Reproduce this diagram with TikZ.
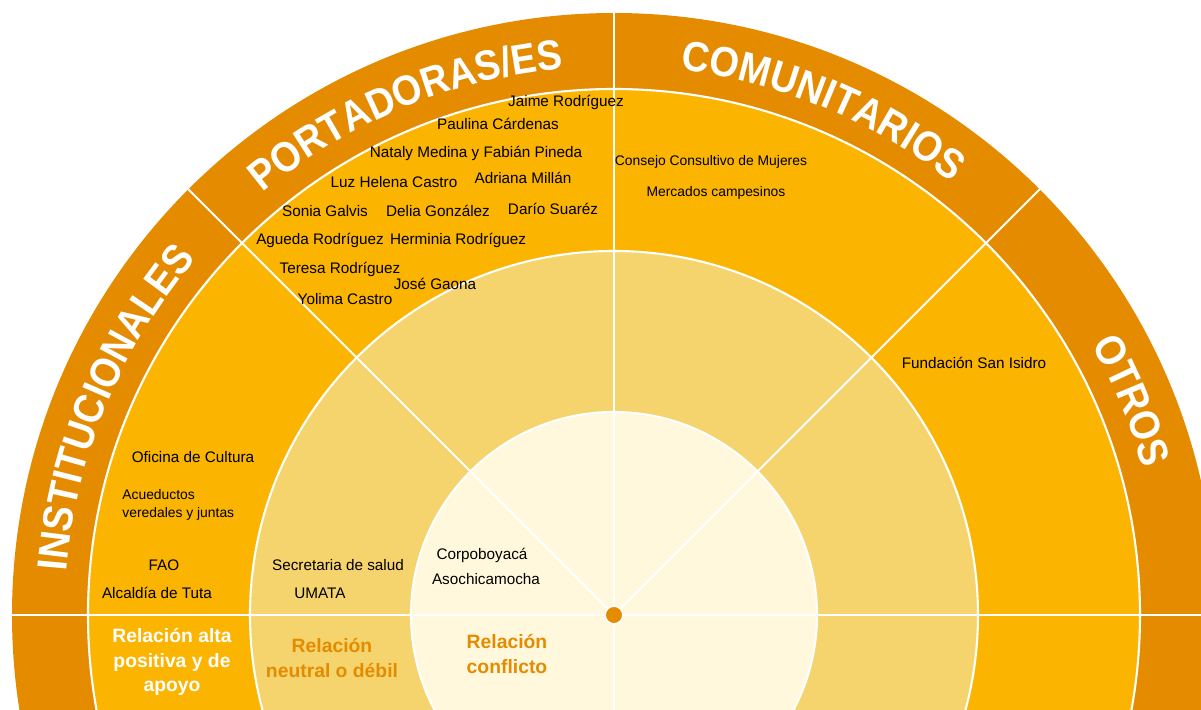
\documentclass[tikz,border=0pt]{standalone}
\usepackage{fontspec}
\setmainfont{Liberation Sans}
\newfontfamily\bandfamily[FakeStretch=0.9]{Liberation Sans}
\usepackage{tikz}
\usetikzlibrary{decorations.text}

\definecolor{bandorange}{HTML}{E58B00}
\definecolor{ringyellow}{HTML}{FBB400}
\definecolor{ringpale}{HTML}{F5D46E}
\definecolor{ringcream}{HTML}{FFF8DC}

\newcommand{\bandfont}{\bandfamily\fontsize{24}{24}\selectfont\bfseries}

\tikzset{
  actor/.style={font=\fontsize{8.7}{10}\selectfont, inner sep=0pt},
  actorsmall/.style={font=\fontsize{7.9}{10.2}\selectfont, inner sep=0pt},
  relation/.style={font=\fontsize{11}{14}\selectfont\bfseries, align=center, inner sep=0pt},
  divider/.style={white, line width=1.2pt},
  bandtitle/.style={decorate, decoration={text along path, text align=center, text={|\bandfont\color{white}|#1}}},
}

\begin{document}
\begin{tikzpicture}[x=0.02cm, y=0.02cm]
\useasboundingbox (-614,-95) rectangle (587,615);

\begin{scope}
\clip (-614,-95) rectangle (587,615);
\fill[bandorange] (0,0) circle[radius=602];
\fill[ringyellow] (0,0) circle[radius=526];
\fill[ringpale] (0,0) circle[radius=364];
\fill[ringcream] (0,0) circle[radius=203];
\foreach \r in {526,364,203}
	\draw[divider] (0,0) circle[radius=\r];
\draw[divider] (-602,0) -- (602,0);
\draw[divider] (0,-602) -- (0,602);
\foreach \a in {45,135}
	\draw[divider] (0,0) -- (\a:602);
\end{scope}

% titles in the outer band
\path[bandtitle={INSTITUCIONALES}] (180:549) arc[start angle=180, end angle=135, radius=549];
\path[bandtitle={PORTADORAS/ES}] (135:549) arc[start angle=135, end angle=90, radius=549];
\path[bandtitle={COMUNITARIOS}] (90:549) arc[start angle=90, end angle=45, radius=549];
\path[bandtitle={OTROS}] (45:549) arc[start angle=45, end angle=0, radius=549];

% portadoras/es
\foreach \p/\t/\n in {{-48,513}/Jaime Rodríguez/jaime, {-116,491}/Paulina Cárdenas/paulina,
	{-138,462}/Nataly Medina y Fabián Pineda/nataly, {-220,433}/Luz Helena Castro/luz,
	{-91,437}/Adriana Millán/adriana, {-289,404}/Sonia Galvis/sonia,
	{-176,404}/Delia González/delia, {-61,406}/Darío Suaréz/dario,
	{-294,375}/Agueda Rodríguez/agueda, {-156,375}/Herminia Rodríguez/herminia,
	{-274,346}/Teresa Rodríguez/teresa, {-179,331}/José Gaona/jose,
	{-269,316}/Yolima Castro/yolima}
	\node[actor] (\n) at (\p) {\t};

% comunitarios, otros
\node[actorsmall] (consejo) at (97,453) {Consejo Consultivo de Mujeres};
\node[actorsmall] (mercados) at (102,422) {Mercados campesinos};
\node[actor] (fundacion) at (360,252) {Fundación San Isidro};

% institucionales
\node[actor] (oficina) at (-421,158) {Oficina de Cultura};
\node[actorsmall, anchor=west, align=left] (acueductos) at (-492,110) {Acueductos\\veredales y juntas};
\node[actor] (fao) at (-450,50) {FAO};
\node[actor] (alcaldia) at (-457,22) {Alcaldía de Tuta};
\node[actor] (secretaria) at (-276,50) {Secretaria de salud};
\node[actor] (umata) at (-294,22) {UMATA};
\node[actor] (corpo) at (-132,60) {Corpoboyacá};
\node[actor] (asochi) at (-128,36) {Asochicamocha};

% relation levels
\node[relation, white] (alta) at (-442,-47) {Relación alta\\positiva y de\\apoyo};
\node[relation, bandorange] (neutral) at (-282,-43) {Relación\\neutral o débil};
\node[relation, bandorange] (conflicto) at (-107,-39) {Relación\\conflicto};

\node[circle, fill=bandorange, draw=white, line width=0.8pt, minimum size=10pt, inner sep=0pt] (hub) at (0,0) {};
\end{tikzpicture}
\end{document}
